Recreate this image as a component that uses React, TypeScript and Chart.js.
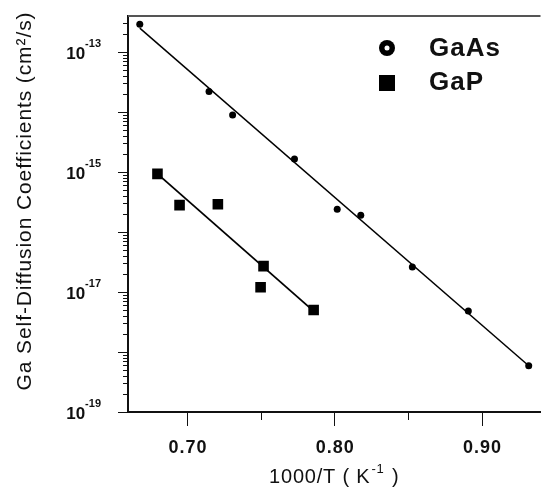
import React, { useEffect, useRef } from "react";
import { Chart, registerables } from "chart.js";

Chart.register(...registerables);

// ---- Data ----
const GAAS_X = [0.668, 0.715, 0.731, 0.773, 0.802, 0.818, 0.853, 0.891, 0.932];
const GAAS_D = [2.9e-13, 2.2e-14, 8.9e-15, 1.65e-15, 2.4e-16, 1.9e-16, 2.6e-17, 4.8e-18, 5.9e-19];
const GAAS_FIT_X = [0.668, 0.932];
const GAAS_FIT_D = [2.5e-13, 5.9e-19];

const GAP_X = [0.68, 0.695, 0.721, 0.752, 0.75, 0.786];
const GAP_D = [9.3e-16, 2.8e-16, 2.9e-16, 2.7e-17, 1.2e-17, 5.0e-18];
const GAP_FIT_X = [0.68, 0.786];
const GAP_FIT_D = [9.3e-16, 4.8e-18];

const X_MAJOR = [0.7, 0.8, 0.9];
const X_MINOR = [0.75, 0.85];
const X_LABELS = ["0.70", "0.80", "0.90"];
const Y_DECADES = [-19, -18, -17, -16, -15, -14, -13];
const Y_LABEL_EXP = [-19, -17, -15, -13];
const SERIES = ["GaAs", "GaP"];
const X_TITLE = "1000/T ( K";
const X_TITLE_SUP = "-1";
const Y_TITLE = "Ga Self-Diffusion Coefficients (cm²/s)";

const FONT = "'Liberation Sans', Arial, sans-serif";

const zip = (xs: number[], ys: number[]) => xs.map((x, i) => ({ x, y: ys[i] }));

const setLS = (ctx: any, v: string) => {
  if ("letterSpacing" in ctx) ctx.letterSpacing = v;
};

const decorPlugin = {
  id: "decor",
  afterDraw(chart: any) {
    const ctx: CanvasRenderingContext2D = chart.ctx;
    const xs = chart.scales.x;
    const ys = chart.scales.y;
    const area = chart.chartArea;
    ctx.save();
    // top border
    ctx.strokeStyle = "#555";
    ctx.lineWidth = 2;
    ctx.beginPath();
    ctx.moveTo(area.left, area.top);
    ctx.lineTo(area.right, area.top);
    ctx.stroke();

    ctx.strokeStyle = "#111";
    ctx.lineWidth = 1;
    // x ticks
    X_MAJOR.forEach((v) => {
      const px = Math.round(xs.getPixelForValue(v)) + 0.5;
      ctx.beginPath();
      ctx.moveTo(px, area.bottom);
      ctx.lineTo(px, area.bottom + 14);
      ctx.stroke();
    });
    X_MINOR.forEach((v) => {
      const px = Math.round(xs.getPixelForValue(v)) + 0.5;
      ctx.beginPath();
      ctx.moveTo(px, area.bottom);
      ctx.lineTo(px, area.bottom + 8);
      ctx.stroke();
    });
    // x labels
    ctx.fillStyle = "#111";
    ctx.font = `bold 18px ${FONT}`;
    setLS(ctx, "1px");
    ctx.textAlign = "center";
    ctx.textBaseline = "middle";
    X_MAJOR.forEach((v, i) => {
      ctx.fillText(X_LABELS[i], xs.getPixelForValue(v) + 1, 448);
    });
    setLS(ctx, "0px");

    // y ticks
    const yMax = ys.max;
    Y_DECADES.forEach((e) => {
      const base = Math.pow(10, e);
      const py = Math.round(ys.getPixelForValue(base)) + 0.5;
      ctx.beginPath();
      ctx.moveTo(area.left, py);
      ctx.lineTo(area.left - 10, py);
      ctx.stroke();
      for (let m = 2; m <= 9; m++) {
        const v = m * base;
        if (v > yMax) break;
        const pm = Math.round(ys.getPixelForValue(v)) + 0.5;
        ctx.beginPath();
        ctx.moveTo(area.left, pm);
        ctx.lineTo(area.left - 5, pm);
        ctx.stroke();
      }
    });
    // y labels
    Y_LABEL_EXP.forEach((e) => {
      const py = ys.getPixelForValue(Math.pow(10, e));
      ctx.font = `bold 11px ${FONT}`;
      const sup = String(e);
      const supW = ctx.measureText(sup).width;
      const right = 101;
      ctx.textAlign = "left";
      ctx.textBaseline = "middle";
      ctx.fillText(sup, right - supW, py - 8);
      ctx.font = `bold 17px ${FONT}`;
      ctx.textAlign = "right";
      ctx.fillText("10", right - supW, py + 2);
    });

    // x title
    setLS(ctx, "0.8px");
    ctx.font = `20px ${FONT}`;
    const w1 = ctx.measureText(X_TITLE).width;
    ctx.font = `13px ${FONT}`;
    const w2 = ctx.measureText(X_TITLE_SUP).width;
    ctx.font = `20px ${FONT}`;
    const w3 = ctx.measureText(" )").width;
    const total = w1 + w2 + w3 + 2;
    let sx = (area.left + area.right) / 2 - total / 2;
    ctx.textAlign = "left";
    ctx.textBaseline = "middle";
    ctx.fillText(X_TITLE, sx, 477);
    ctx.font = `13px ${FONT}`;
    ctx.fillText(X_TITLE_SUP, sx + w1 + 1, 469);
    ctx.font = `20px ${FONT}`;
    ctx.fillText(" )", sx + w1 + w2 + 2, 477);

    // y title
    ctx.save();
    ctx.translate(25, 201);
    ctx.rotate(-Math.PI / 2);
    setLS(ctx, "0.9px");
    ctx.font = `21px ${FONT}`;
    ctx.textAlign = "center";
    ctx.textBaseline = "middle";
    ctx.fillText(Y_TITLE, 0, 0);
    ctx.restore();
    setLS(ctx, "0px");

    // legend
    ctx.fillStyle = "#000";
    ctx.beginPath();
    ctx.arc(387, 48, 8, 0, Math.PI * 2);
    ctx.fill();
    ctx.fillStyle = "#fff";
    ctx.beginPath();
    ctx.arc(387, 48, 2.5, 0, Math.PI * 2);
    ctx.fill();
    ctx.fillStyle = "#000";
    ctx.fillRect(379, 75, 16, 16);
    ctx.fillStyle = "#111";
    ctx.font = `bold 26px ${FONT}`;
    setLS(ctx, "1px");
    ctx.textAlign = "left";
    ctx.textBaseline = "middle";
    ctx.fillText(SERIES[0], 429, 49);
    ctx.fillText(SERIES[1], 429, 83);
    setLS(ctx, "0px");
    ctx.restore();
  },
};

export default function App() {
  const ref = useRef<HTMLCanvasElement | null>(null);
  useEffect(() => {
    document.body.style.margin = "0";
    if (!ref.current) return;
    const chart = new Chart(ref.current, {
      type: "scatter",
      data: {
        datasets: [
          {
            label: "GaAs fit",
            data: zip(GAAS_FIT_X, GAAS_FIT_D),
            showLine: true,
            borderColor: "#000",
            borderWidth: 1.5,
            pointRadius: 0,
          },
          {
            label: "GaP fit",
            data: zip(GAP_FIT_X, GAP_FIT_D),
            showLine: true,
            borderColor: "#000",
            borderWidth: 1.8,
            pointRadius: 0,
          },
          {
            label: SERIES[0],
            data: zip(GAAS_X, GAAS_D),
            pointStyle: "circle",
            pointRadius: 3.5,
            backgroundColor: "#000",
            borderColor: "#000",
            borderWidth: 0,
          },
          {
            label: SERIES[1],
            data: zip(GAP_X, GAP_D),
            pointStyle: "rect",
            pointRadius: 7.5,
            backgroundColor: "#000",
            borderColor: "#000",
            borderWidth: 0,
          },
        ],
      },
      options: {
        responsive: false,
        animation: false,
        layout: { padding: { top: 16, left: 0, right: 0, bottom: 0 } },
        plugins: { legend: { display: false }, tooltip: { enabled: false } },
        scales: {
          x: {
            type: "linear",
            min: 0.66,
            max: 0.94,
            ticks: { display: false },
            grid: { display: false },
            border: { display: true, color: "#111", width: 2 },
            afterFit: (s: any) => {
              s.height = 81;
            },
          },
          y: {
            type: "logarithmic",
            min: 1e-19,
            max: 3.98e-13,
            ticks: { display: false },
            grid: { display: false },
            border: { display: true, color: "#111", width: 2 },
            afterFit: (s: any) => {
              s.width = 128;
            },
          },
        },
      },
      plugins: [decorPlugin],
    } as any);
    return () => chart.destroy();
  }, []);
  return (
    <div style={{ width: 548, height: 493, background: "#fff" }}>
      <canvas ref={ref} width={548} height={493} style={{ display: "block" }} />
    </div>
  );
}
